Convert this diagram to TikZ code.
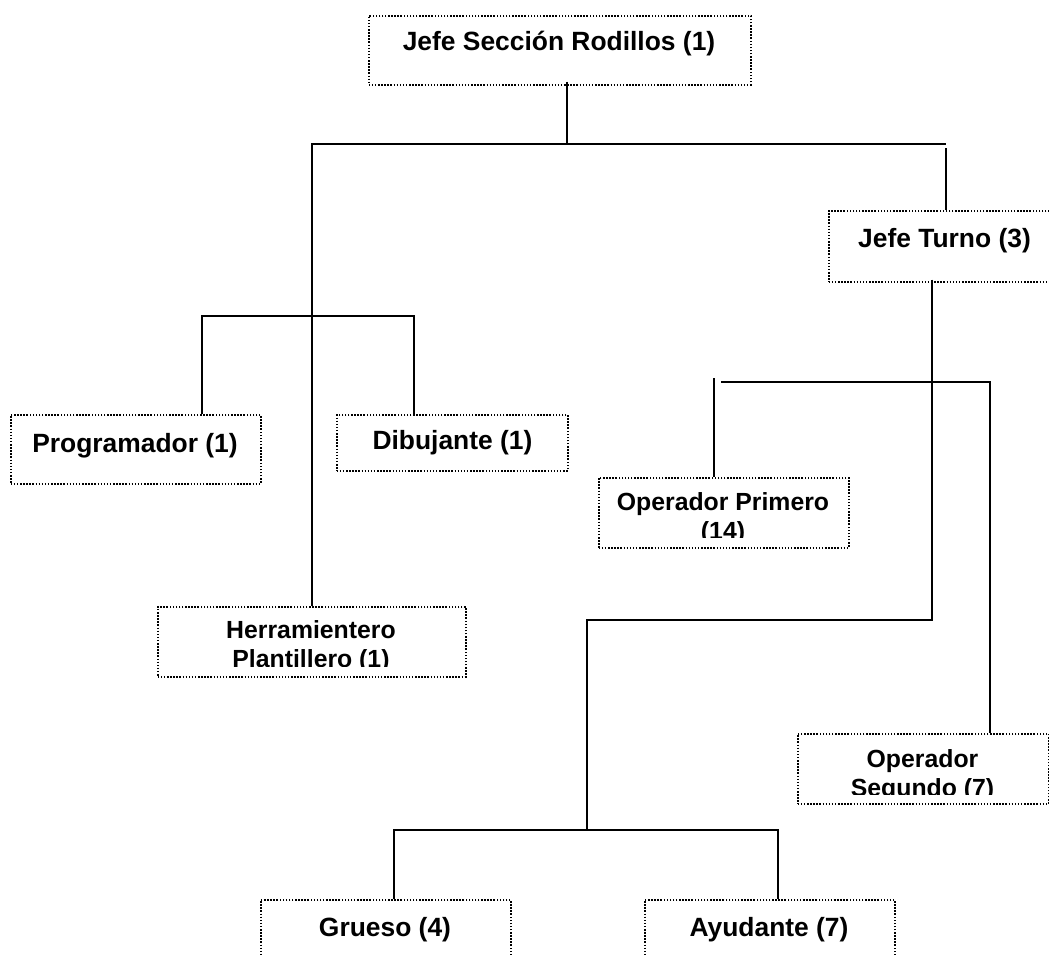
\documentclass[tikz,border=0pt]{standalone}
\usepackage{fontspec}
\setmainfont{Liberation Sans}
\begin{document}
\begin{tikzpicture}[x=1pt,y=-1pt,
  box/.style={draw=black, line width=1.5pt, dash pattern=on 1.5pt off 1.6pt,
    rectangle, inner sep=0pt, anchor=north west},
  lbl/.style={inner sep=0pt, anchor=base, font=\bfseries\fontsize{26.4}{30}\selectfont},
  lblsm/.style={inner sep=0pt, anchor=base, align=center,
    font=\bfseries\fontsize{24.8}{28.5}\selectfont},
  link/.style={draw=black, line width=1.9pt}]
\clip (0,0) rectangle (1049,954);
\fill[white] (0,0) rectangle (1049,954);

% boxes (top-left corner, width, height)
\node[box, minimum width=382pt, minimum height=69pt] (top) at (368,15) {};
\node[box, minimum width=233pt, minimum height=71pt] (jt) at (828,210) {};
\node[box, minimum width=250pt, minimum height=69pt] (prog) at (10,414) {};
\node[box, minimum width=231pt, minimum height=56pt] (dib) at (336,414) {};
\node[box, minimum width=250pt, minimum height=70pt] (op1) at (598,477) {};
\node[box, minimum width=308pt, minimum height=70pt] (herr) at (157,606) {};
\node[box, minimum width=251pt, minimum height=70pt] (opseg) at (797,733) {};
\node[box, minimum width=250pt, minimum height=100pt] (grueso) at (260,899) {};
\node[box, minimum width=250pt, minimum height=100pt] (ayud) at (644,899) {};

% labels
\node[lbl] (top-t) at (559,50) {Jefe Sección Rodillos (1)};
\node[lbl] (jt-t) at (944.5,247) {Jefe Turno (3)};
\node[lbl] (prog-t) at (135,452) {Programador (1)};
\node[lbl] (dib-t) at (452.5,449) {Dibujante (1)};
\node[lbl] (grueso-t) at (385,936) {Grueso (4)};
\node[lbl] (ayud-t) at (769,936) {Ayudante (7)};
% two-line labels (base = last line), cut off by their text frames
\begin{scope}
  \clip (600,479) rectangle (846,537);
  \node[lblsm] (op1-t) at (723,539) {Operador Primero\\(14)};
\end{scope}
\begin{scope}
  \clip (159,608) rectangle (463,666);
  \node[lblsm] (herr-t) at (311,667) {Herramientero\\Plantillero (1)};
\end{scope}
\begin{scope}
  \clip (799,735) rectangle (1046,794);
  \node[lblsm] (opseg-t) at (922.5,796) {Operador\\Segundo (7)};
\end{scope}

% connector junctions
\coordinate (hub) at (567,144);
\coordinate (hl) at (312,144);
\coordinate (hr) at (946,144);
\coordinate (pl) at (202,316);
\coordinate (pr) at (414,316);
\coordinate (t1) at (932,620);
\coordinate (t2) at (587,620);
\coordinate (t3) at (587,830);
\coordinate (gl) at (394,830);
\coordinate (gr) at (778,830);
\coordinate (o1) at (714,378);
\coordinate (ol) at (721,382);
\coordinate (or) at (990,382);

% connectors
\draw[link] ([yshift=4pt]top.south -| hub) -- (hub);
\draw[link] (herr.north -| hl) -- (hl) -- (hr);
\draw[link] (jt.north -| hr) -- ([yshift=-4pt]hr);
\draw[link] (prog.north -| pl) -- (pl) -- (pr) -- (dib.north -| pr);
\draw[link] ([yshift=3pt]jt.south -| t1) -- (t1) -- (t2) -- (t3);
\draw[link] (grueso.north -| gl) -- (gl) -- (gr) -- (ayud.north -| gr);
\draw[link] (op1.north -| o1) -- (o1);
\draw[link] (ol) -- (or) -- (opseg.north -| or);
\end{tikzpicture}
\end{document}
